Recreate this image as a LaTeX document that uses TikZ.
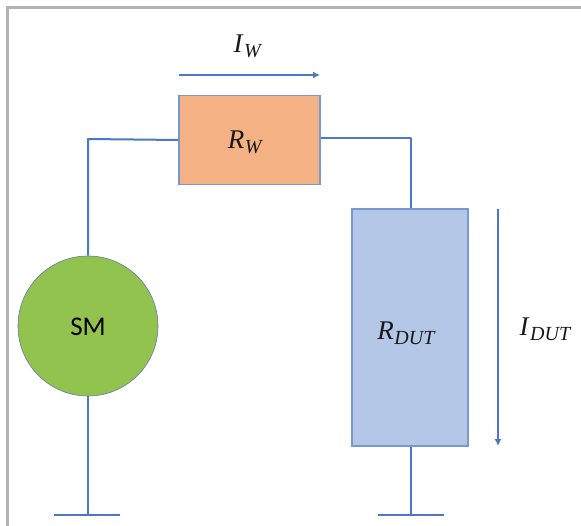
\documentclass[tikz,border=0pt]{standalone}
\usepackage{fontspec}
\setmainfont{Liberation Serif}
\newfontfamily\smfont{Carlito}
\usetikzlibrary{arrows.meta}
\definecolor{wireblue}{RGB}{78,120,198}
\definecolor{frameGray}{RGB}{178,178,178}
\definecolor{orangefill}{RGB}{244,177,131}
\definecolor{bluefill}{RGB}{180,199,231}
\definecolor{greenfill}{RGB}{146,195,78}
\newcommand{\lab}[2]{{\fontsize{27}{29}\selectfont\textit{#1}\kern0.5pt\raisebox{-5pt}{\fontsize{20}{22}\selectfont\textit{#2}}}}
\tikzset{
  wire/.style={draw=wireblue,line width=2pt,line join=round},
  currentarrow/.style={draw=wireblue,line width=2pt,-{Latex[length=7pt,width=7pt]}},
  resistor/.style={rectangle,draw=wireblue!60!bluefill,line width=1.2pt,inner sep=0pt},
  labeltext/.style={inner sep=0pt,text=black!90}
}
\begin{document}
\begin{tikzpicture}[x=1pt,y=-1pt]
\useasboundingbox (0,0) rectangle (581,526);
\fill[white] (0,0) rectangle (581,526);
\draw[frameGray,line width=2.6pt] (7.5,526) -- (7.5,7.5) -- (581,7.5);
\node[resistor,fill=orangefill,minimum width=141pt,minimum height=89pt] (rw) at (249.5,140) {};
\node[labeltext] at (245.5,142.5) {\lab{R}{W}};
\node[resistor,fill=bluefill,minimum width=116pt,minimum height=237pt] (rdut) at (410,327.5) {};
\node[labeltext] at (406.5,333) {\lab{R}{DUT}};
\node[circle,draw=wireblue!60!gray,line width=0.6pt,fill=greenfill,minimum size=140pt,inner sep=0pt] (sm) at (88,326) {};
\node[inner sep=0pt] at (88,326.5) {\fontsize{27}{29}\selectfont\smfont SM};
\coordinate (gl) at (88,515);
\coordinate (gr) at (411,515);
\coordinate (gla) at (54,515);
\coordinate (glb) at (120,515);
\coordinate (gra) at (378,515);
\coordinate (grb) at (444,515);
\coordinate (cl) at (88,139);
\coordinate (cr) at (411,138);
\draw[wire] (sm.north) -- (cl) -- (rw.west);
\draw[wire] (rw.east |- cr) -- (cr) -- (rdut.north -| cr);
\draw[wire] (sm.south) -- (gl);
\draw[wire] (rdut.south -| gr) -- (gr);
\draw[wire] (gla) -- (glb);
\draw[wire] (gra) -- (grb);
\coordinate (iwa) at (179,75);
\coordinate (iwb) at (320,75);
\coordinate (ida) at (498,209);
\coordinate (idb) at (498,446);
\draw[currentarrow] (iwa) -- (iwb);
\draw[currentarrow] (ida) -- (idb);
\node[labeltext] (iw) at (248,46) {\lab{I}{W}};
\node[labeltext] (id) at (545.5,329) {\lab{I}{DUT}};
\end{tikzpicture}
\end{document}
